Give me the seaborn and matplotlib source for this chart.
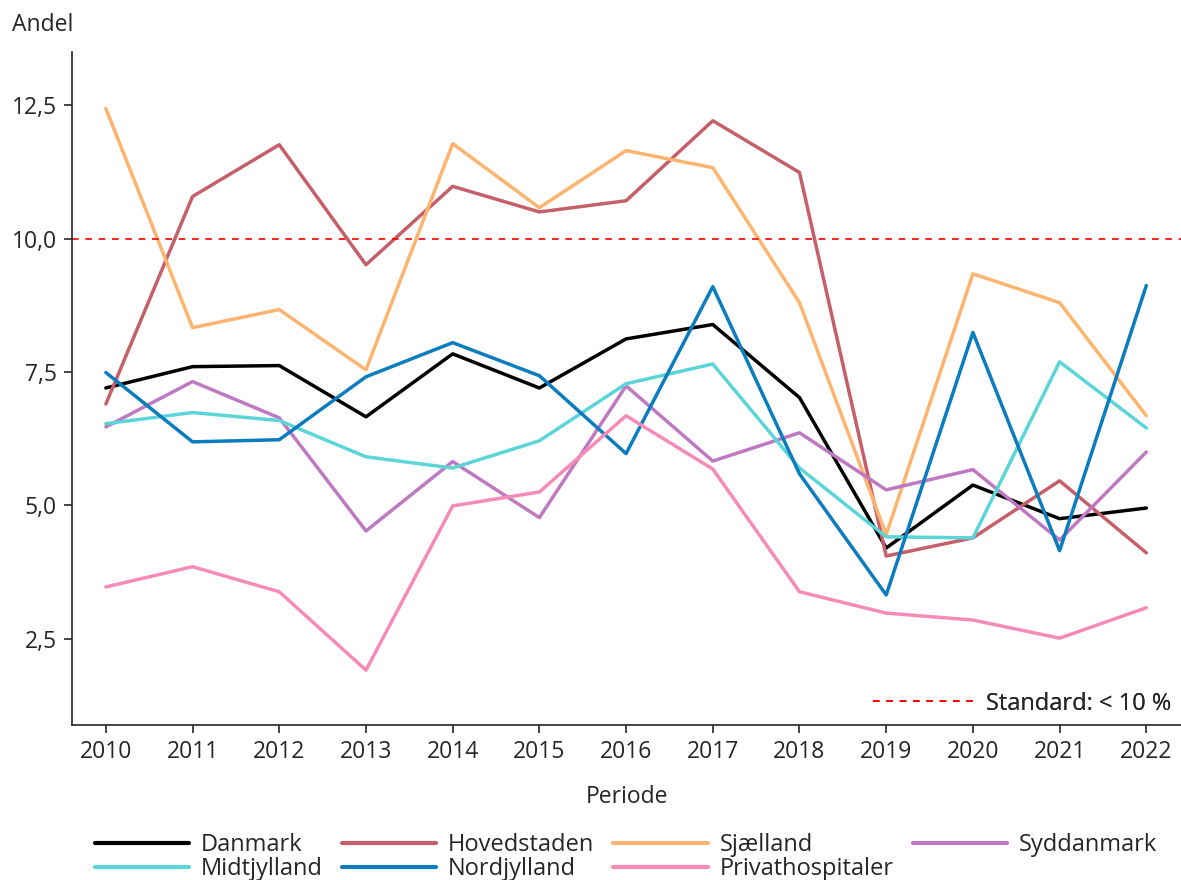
import pandas as pd
import matplotlib.pyplot as plt
import seaborn as sns
from matplotlib.lines import Line2D

years = list(range(2010, 2023))

danmark = [7.20, 7.60, 7.62, 6.66, 7.84, 7.20, 8.12, 8.39, 7.02, 4.20, 5.38, 4.75, 4.95]
hovedstaden = [6.90, 10.79, 11.76, 9.51, 10.98, 10.50, 10.71, 12.21, 11.24, 4.05, 4.39, 5.46, 4.11]
sjaelland = [12.44, 8.33, 8.67, 7.54, 11.78, 10.58, 11.65, 11.33, 8.80, 4.45, 9.34, 8.80, 6.68]
syddanmark = [6.47, 7.32, 6.64, 4.52, 5.82, 4.77, 7.24, 5.83, 6.36, 5.29, 5.67, 4.35, 6.00]
midtjylland = [6.53, 6.74, 6.59, 5.91, 5.70, 6.21, 7.28, 7.65, 5.70, 4.41, 4.39, 7.69, 6.45]
nordjylland = [7.49, 6.19, 6.23, 7.41, 8.05, 7.43, 5.97, 9.10, 5.59, 3.32, 8.24, 4.15, 9.12]
privat = [3.47, 3.85, 3.38, 1.91, 4.99, 5.25, 6.68, 5.68, 3.38, 2.98, 2.85, 2.51, 3.08]

regions = ["Danmark", "Hovedstaden", "Sjælland", "Syddanmark",
           "Midtjylland", "Nordjylland", "Privathospitaler"]
series = [danmark, hovedstaden, sjaelland, syddanmark, midtjylland, nordjylland, privat]
colors = ["#000000", "#c5606a", "#fdb46f", "#bf79c3", "#5bd5d7", "#0b7cbd", "#f78bb8"]

standard = 10.0

rows = []
for name, vals in zip(regions, series):
    for y, v in zip(years, vals):
        rows.append({"Periode": y, "Andel": v, "Region": name})
df = pd.DataFrame(rows)

sns.set_style("ticks")
plt.rcParams["font.family"] = ["Open Sans", "DejaVu Sans"]
fs = 16.5
lfs = 17

fig = plt.figure(figsize=(11.81, 8.8), dpi=100)
ax = fig.add_axes([0.061, 0.176, 0.939, 0.765])

sns.lineplot(data=df, x="Periode", y="Andel", hue="Region", hue_order=regions,
             palette=dict(zip(regions, colors)), linewidth=2.5, ax=ax, legend=False)

ax.axhline(standard, color="red", linestyle=(0, (4, 4)), linewidth=1.2)

ax.set_xlim(2009.61, 2022.4)
ax.set_ylim(0.88, 13.5)
ax.set_xticks(years)
ax.set_yticks([2.5, 5.0, 7.5, 10.0, 12.5])
ax.set_yticklabels(["2,5", "5,0", "7,5", "10,0", "12,5"])
ax.tick_params(labelsize=fs, length=6, width=1.2, direction="out", pad=5)
for s in ["left", "bottom"]:
    ax.spines[s].set_linewidth(1.2)
sns.despine(ax=ax)

ax.set_ylabel("")
ax.set_xlabel("Periode", fontsize=fs, labelpad=15)
fig.text(0.010, 0.972, "Andel", fontsize=fs, va="center", ha="left")

std_handle = Line2D([], [], color="red", linestyle=(0, (4, 4)), linewidth=1.2)
leg1 = ax.legend([std_handle], ["Standard: < 10 %"], loc="lower right",
                 frameon=False, fontsize=lfs, handlelength=4.3, handletextpad=0.5,
                 borderaxespad=0.0)
ax.add_artist(leg1)

# matplotlib fills legend columns first, so reorder to get row-wise order
order = [0, 4, 1, 5, 2, 6, 3]
handles = [Line2D([], [], color=colors[i], linewidth=3) for i in order]
labels = [regions[i] for i in order]
fig.legend(handles, labels, loc="lower center", ncol=4, frameon=False,
           fontsize=lfs, handlelength=4.0, handletextpad=0.5, columnspacing=0.8,
           labelspacing=0.0, borderpad=0.2, bbox_to_anchor=(0.53, -0.02))

fig.savefig("out.png", dpi=100)
